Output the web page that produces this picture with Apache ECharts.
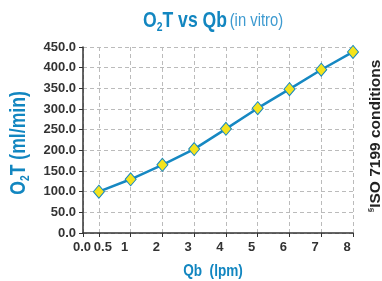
<!DOCTYPE html>
<html>
<head>
<meta charset="utf-8">
<script src="https://cdn.jsdelivr.net/npm/echarts@6/dist/echarts.min.js"></script>
<style>
  html, body { margin: 0; padding: 0; background: #fff; }
  #chart { width: 382px; height: 281px; }
</style>
</head>
<body>
<div id="chart"></div>
<script>
// tick labels on the Qb axis (first one is the origin)
const xLabels = ['0.0', '0.5', '1', '2', '3', '4', '5', '6', '7', '8'];
// Qb (lpm) points and O2T (ml/min)
const qb = ['0.5', '1', '2', '3', '4', '5', '6', '7', '8'];
const o2t = [100, 130, 165, 203, 252, 302, 348, 395, 438];

const SANS = '"Liberation Sans", Arial, sans-serif';
const BLUE = '#1286c0';
const SQUEEZE = 0.8; // fake a condensed face

// axis is counted in half steps so 0.5 sits halfway to 1
const tickPos = xLabels.map((l, i) => i === 0 ? 0 : i * 2 - 1);
const labelAt = {};
xLabels.forEach((l, i) => { labelAt[tickPos[i]] = l; });

const points = qb.map((q, i) => [tickPos[xLabels.indexOf(q)], o2t[i]]);

const blueRich = (size, sub) => ({
  b: { fontFamily: SANS, fontWeight: 'bold', fontSize: size, fill: BLUE, lineHeight: size + 4 },
  s: { fontFamily: SANS, fontWeight: 'bold', fontSize: sub, fill: BLUE, lineHeight: sub + 3, verticalAlign: 'bottom' }
});

const chart = echarts.init(document.getElementById('chart'));

chart.setOption({
  animation: false,
  grid: { left: 83, right: 29, top: 47, bottom: 48, outerBoundsMode: 'none' },
  xAxis: {
    type: 'value',
    min: 0,
    max: 17,
    interval: 1,
    axisLine: { lineStyle: { color: '#333', width: 1.5 } },
    axisTick: { customValues: tickPos, length: 4, lineStyle: { color: '#333' } },
    axisLabel: {
      customValues: tickPos,
      showMinLabel: true,
      formatter: v => {
        const l = labelAt[v];
        if (v === 0) return '{o|' + l + '}';
        if (v === 1) return '{h|' + l + '}';
        return '{n|' + l + '}';
      },
      fontFamily: SANS,
      fontWeight: 'bold',
      fontSize: 13,
      color: '#333',
      margin: 8,
      rich: {
        o: { fontFamily: SANS, fontWeight: 'bold', fontSize: 13, color: '#333', padding: [0, 2, 0, 0] },
        h: { fontFamily: SANS, fontWeight: 'bold', fontSize: 13, color: '#333', padding: [0, 0, 0, 8] },
        n: { fontFamily: SANS, fontWeight: 'bold', fontSize: 13, color: '#333', padding: [0, 12, 0, 0] }
      }
    },
    splitLine: { show: true, lineStyle: { color: '#bbb', type: [4, 3] } }
  },
  yAxis: {
    type: 'value',
    min: 0,
    max: 450,
    interval: 50,
    axisLine: { show: true, lineStyle: { color: '#333', width: 1.5 } },
    axisTick: { show: true, length: 4, lineStyle: { color: '#333' } },
    axisLabel: {
      showMinLabel: true,
      formatter: v => v.toFixed(1),
      fontFamily: SANS,
      fontWeight: 'bold',
      fontSize: 13,
      color: '#333',
      margin: 7
    },
    splitLine: { show: true, lineStyle: { color: '#bbb', type: [4, 3] } }
  },
  series: [{
    type: 'line',
    data: points,
    symbol: 'diamond',
    symbolSize: [11, 13],
    lineStyle: { color: '#1688c2', width: 2.5 },
    itemStyle: { color: '#f4e31c', borderColor: '#1688c2', borderWidth: 1 }
  }],
  graphic: [
    { // title
      type: 'text',
      x: 143,
      y: 21,
      scaleX: SQUEEZE,
      style: {
        text: '{b|O}{s|2}{b|T vs Qb} {l|(in vitro)}',
        align: 'left',
        verticalAlign: 'middle',
        rich: Object.assign(blueRich(22, 13), {
          l: { fontFamily: SANS, fontWeight: 'normal', fontSize: 18.5, fill: '#3d9ad0', lineHeight: 26 }
        })
      }
    },
    { // y axis name
      type: 'text',
      x: 19,
      y: 143,
      rotation: Math.PI / 2,
      scaleX: SQUEEZE,
      style: {
        text: '{b|O}{s|2}{b|T (ml/min)}',
        align: 'center',
        verticalAlign: 'middle',
        rich: blueRich(22, 13)
      }
    },
    { // x axis name
      type: 'text',
      x: 213,
      y: 271,
      scaleX: SQUEEZE,
      style: {
        text: 'Qb  (lpm)',
        align: 'center',
        verticalAlign: 'middle',
        fontFamily: SANS,
        fontWeight: 'bold',
        fontSize: 17,
        fill: BLUE
      }
    },
    { // side note
      type: 'text',
      x: 376,
      y: 136,
      rotation: Math.PI / 2,
      style: {
        text: '{s|§}{t|ISO 7199 conditions}',
        align: 'center',
        verticalAlign: 'middle',
        rich: {
          s: { fontFamily: SANS, fontWeight: 'bold', fontSize: 8, fill: '#222', verticalAlign: 'top', lineHeight: 16 },
          t: { fontFamily: SANS, fontWeight: 'bold', fontSize: 15.5, fill: '#222', lineHeight: 18 }
        }
      }
    }
  ]
});
</script>
</body>
</html>
